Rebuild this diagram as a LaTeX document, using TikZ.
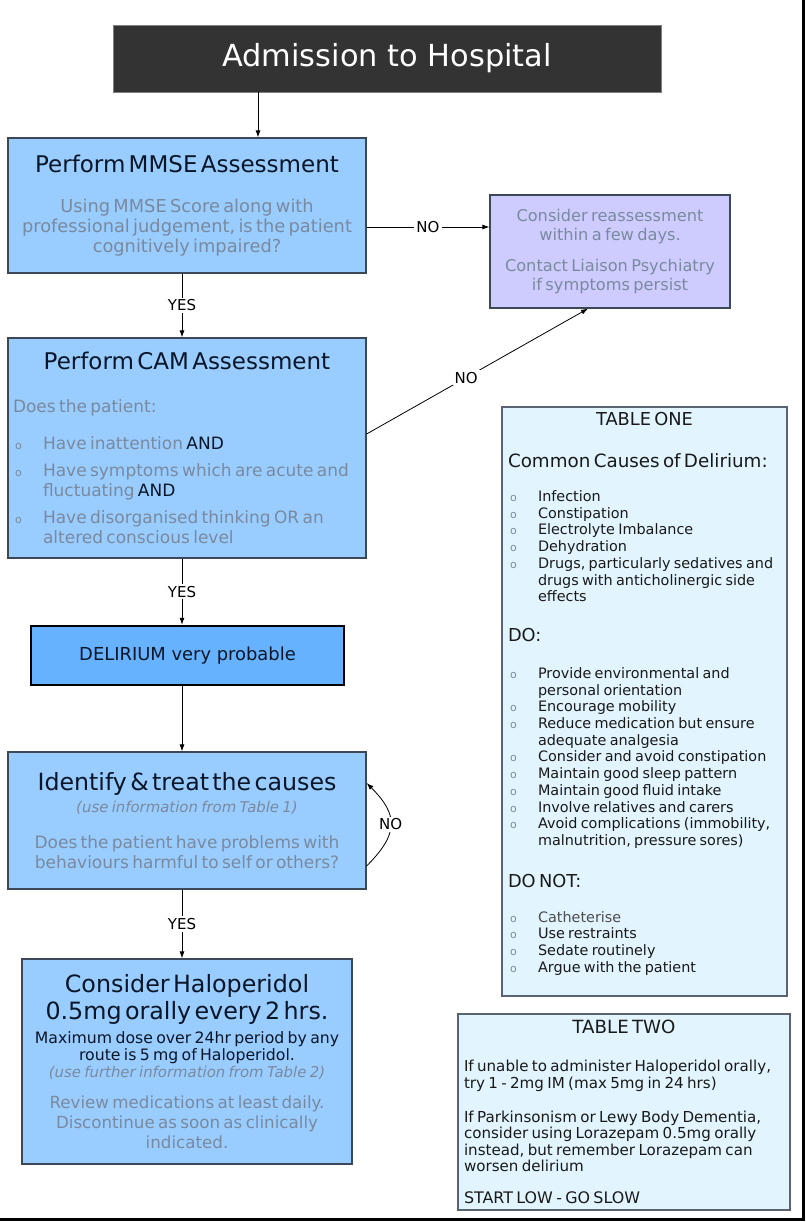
\documentclass[tikz,border=0pt]{standalone}
\usepackage{fontspec}
\setmainfont{DejaVu Sans}
\usetikzlibrary{arrows.meta}

\definecolor{boxblue}{RGB}{153,204,255}
\definecolor{darkblue}{RGB}{102,178,255}
\definecolor{lavender}{RGB}{206,204,255}
\definecolor{paleblue}{RGB}{226,245,255}
\definecolor{graytxt}{RGB}{122,138,158}
\definecolor{navytxt}{RGB}{10,22,40}
\definecolor{edgegray}{RGB}{60,72,88}

\newcommand{\headfont}{\fontsize{23}{26}\selectfont}
\newcommand{\bodyfont}{\fontsize{17}{20}\selectfont}
\newcommand{\tabfont}{\fontsize{14.4}{16.7}\selectfont}
\newcommand{\tabhead}{\fontsize{17.8}{20}\selectfont}
% one bullet line, hanging indent
\newcommand{\bul}[1]{\par\noindent\hangindent=30pt\hangafter=1%
  \makebox[30pt][l]{\hspace{2pt}{\color{graytxt}\fontsize{11}{11}\selectfont o}}#1\par}

\tikzset{
  box/.style={draw=edgegray, line width=1.2pt, fill=boxblue, text=navytxt, inner sep=5pt, align=center},
  tablebox/.style={draw=edgegray!85, line width=1.2pt, fill=paleblue},
  arr/.style={-{Latex[length=7pt,width=5pt]}, line width=0.8pt},
  lbl/.style={fill=white, inner sep=2pt, text=black, font=\fontsize{15}{15}\selectfont}
}

\begin{document}
\begin{tikzpicture}[x=1pt, y=1pt]
% page
\fill[white] (0,0) rectangle (805,-1222);
\useasboundingbox (0,0) rectangle (805,-1222);
\draw[line width=3pt] (803.5,0) -- (803.5,-1219.5) -- (0,-1219.5);

% title
\node[draw=gray, fill=black!80, text=white, minimum width=548pt, minimum height=67pt, font=\fontsize{30.4}{34}\selectfont] (admit) at (387,-58.5) {Admission to Hospital};

% left column
\node[box, minimum width=358pt, minimum height=135pt, text width=348pt] (mmse) at (187,-205.5) {
  {\headfont Perform MMSE Assessment\par}
  \vspace{20pt}
  {\fontsize{17.8}{20}\selectfont\color{graytxt} Using MMSE Score along with\\ professional judgement, is the patient\\ cognitively impaired?\par}};

\node[box, fill=lavender, minimum width=240pt, minimum height=113pt, text width=230pt] (reassess) at (610,-251.5) {
  {\fontsize{16.2}{19}\selectfont\color{graytxt} Consider reassessment\\ within a few days.\par
  \vspace{12pt}
  Contact Liaison Psychiatry\\ if symptoms persist\par}};

\node[box, align=left, minimum width=358pt, minimum height=220pt, text width=348pt] (cam) at (187,-448) {
  {\centering\headfont Perform CAM Assessment\par}
  \vspace{23pt}
  {\bodyfont\color{graytxt} Does the patient:\par
  \vspace{17pt}
  \bul{Have inattention \textcolor{navytxt}{AND}}
  \vspace{7pt}
  \bul{Have symptoms which are acute and\newline fluctuating \textcolor{navytxt}{AND}}
  \vspace{7pt}
  \bul{Have disorganised thinking OR an\newline altered conscious level}}};

\node[box, draw=black, line width=2.5pt, fill=darkblue, minimum width=313pt, minimum height=59pt, font=\fontsize{17.9}{21}\selectfont] (delirium) at (187.5,-655.5) {DELIRIUM very probable};

\node[box, minimum width=358pt, minimum height=137pt, text width=348pt] (ident) at (187,-820.5) {
  {\fontsize{23.7}{28}\selectfont Identify \& treat the causes\par}
  \vspace{4pt}
  {\fontsize{14.9}{18}\selectfont\itshape\color{graytxt} (use information from Table 1)\par}
  \vspace{16pt}
  {\bodyfont\color{graytxt} Does the patient have problems with\\ behaviours harmful to self or others?\par}};

\node[box, minimum width=330pt, minimum height=205pt, text width=320pt] (halo) at (187,-1061.5) {
  {\fontsize{23.8}{27}\selectfont Consider Haloperidol\\ 0.5mg orally every 2 hrs.\par}
  \vspace{7pt}
  {\fontsize{15.7}{17}\selectfont Maximum dose over 24hr period by any\\ route is 5 mg of Haloperidol.\par
  {\fontsize{14.9}{17}\selectfont\itshape\color{graytxt} (use further information from Table 2)\par}}
  \vspace{11pt}
  {\fontsize{16.7}{20}\selectfont\color{graytxt} Review medications at least daily.\\ Discontinue as soon as clinically\\ indicated.\par}};

% tables
\node[tablebox, minimum width=285pt, minimum height=589pt] (tabone) at (644.5,-701.5) {};
\node[anchor=north, inner sep=0pt, text width=273pt, align=left, text=black!90] (tabonetxt) at ([yshift=-6pt]tabone.north) {
  {\centering\tabhead TABLE ONE\par}
  \vspace{20pt}
  {\fontsize{18.3}{22}\selectfont Common Causes of Delirium:\par}
  \vspace{17pt}
  {\tabfont
  \bul{Infection}
  \bul{Constipation}
  \bul{Electrolyte Imbalance}
  \bul{Dehydration}
  \bul{Drugs, particularly sedatives and\newline drugs with anticholinergic side\newline effects}}
  \vspace{20pt}
  {\tabhead DO:\par}
  \vspace{20pt}
  {\tabfont
  \bul{Provide environmental and\newline personal orientation}
  \bul{Encourage mobility}
  \bul{Reduce medication but ensure\newline adequate analgesia}
  \bul{Consider and avoid constipation}
  \bul{Maintain good sleep pattern}
  \bul{Maintain good fluid intake}
  \bul{Involve relatives and carers}
  \bul{Avoid complications (immobility,\newline malnutrition, pressure sores)}}
  \vspace{22pt}
  {\tabhead DO NOT:\par}
  \vspace{18pt}
  {\tabfont
  \bul{\textcolor{black!70}{Catheterise}}
  \bul{Use restraints}
  \bul{Sedate routinely}
  \bul{Argue with the patient}}};

\node[tablebox, minimum width=332pt, minimum height=196pt] (tabtwo) at (624,-1112) {};
\node[anchor=north, inner sep=0pt, text width=320pt, align=left, text=black!90] (tabtwotxt) at ([yshift=-6pt]tabtwo.north) {
  {\centering\fontsize{18.2}{20}\selectfont TABLE TWO\par}
  \vspace{22pt}
  {\fontsize{15.1}{16.5}\selectfont If unable to administer Haloperidol orally,\\ try 1 - 2mg IM (max 5mg in 24 hrs)\par
  \vspace{17.5pt}
  If Parkinsonism or Lewy Body Dementia,\\ consider using Lorazepam 0.5mg orally\\ instead, but remember Lorazepam can\\ worsen delirium\par
  \vspace{15.5pt}
  {\fontsize{15.9}{16.5}\selectfont START LOW - GO SLOW\par}}};

% connectors
\draw[arr] ([xshift=-129pt]admit.south) -- ([xshift=71pt]mmse.north);
\draw[arr] ([yshift=-21.5pt]mmse.east) -- node[lbl] {NO} ([yshift=24.5pt]reassess.west);
\draw[arr] ([xshift=-5pt]mmse.south) -- node[lbl] {YES} ([xshift=-5pt]cam.north);
\draw[arr] ([yshift=14pt]cam.east) -- node[lbl, pos=0.45] {NO} ([xshift=-22pt]reassess.south);
\draw[arr] ([xshift=-5pt]cam.south) -- node[lbl] {YES} ([xshift=-5.5pt]delirium.north);
\draw[arr] ([xshift=-5.5pt]delirium.south) -- ([xshift=-5pt]ident.north);
\draw[arr] ([yshift=-45.5pt]ident.east) to[out=45, in=-45, looseness=1.4] node[lbl] {NO} ([yshift=37.5pt]ident.east);
\draw[arr] ([xshift=-5pt]ident.south) -- node[lbl] {YES} ([xshift=-5pt]halo.north);
\end{tikzpicture}
\end{document}
